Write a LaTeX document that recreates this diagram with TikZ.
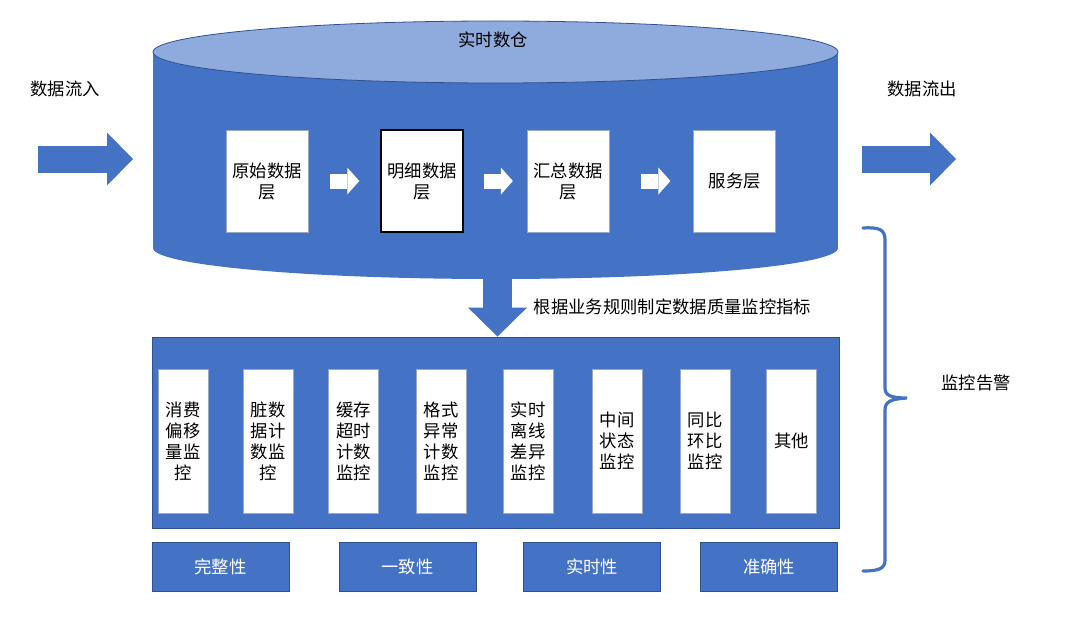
\documentclass[tikz,border=0pt]{standalone}
\usepackage{fontspec}
\setmainfont{Noto Sans CJK SC}
\usetikzlibrary{arrows.meta,positioning}
\definecolor{dqblue}{HTML}{4472C4}
\definecolor{dqlight}{HTML}{8FAADC}
\definecolor{dqedge}{HTML}{2F528F}

\begin{document}
\begin{tikzpicture}[
  x=0.75pt, y=-0.75pt,
  every node/.style={font=\fontsize{13}{15.75}\selectfont},
  layer/.style={rectangle, fill=white, draw=dqedge!50, line width=0.4pt, align=center,
                minimum width=61.5pt, minimum height=76.5pt, inner sep=2pt},
  check/.style={rectangle, fill=white, draw=dqedge!50, line width=0.4pt, align=center,
                minimum width=37.5pt, minimum height=108pt, inner sep=1pt},
  dimbox/.style={rectangle, fill=dqblue, draw=dqedge, line width=0.6pt, text=white,
                 minimum width=102.75pt, minimum height=36.75pt},
  fatarr/.style={dqblue, line width=20.25pt, -{Triangle[length=19.5pt, width=39.75pt, line width=0pt]}},
  downarr/.style={dqblue, line width=21.75pt, -{Triangle[length=21.75pt, width=44.25pt, line width=0pt]}},
  thinarr/.style={white, line width=11.25pt, -{Triangle[length=9pt, width=20.25pt, line width=0pt]}}
]
\useasboundingbox (0,0) rectangle (1080,635);

% down arrow first, the cylinder hides its top
\coordinate (cylbot) at (497.5,279);
\node[draw=dqedge, line width=0.6pt, fill=dqblue, minimum width=515.25pt,
      minimum height=143.25pt] (mon) at (495.5,432.5) {};
\draw[downarr] (cylbot) -- (cylbot |- mon.north);

% cylinder
\fill[dqblue] (495.5,248) ellipse[x radius=342.5, y radius=31];
\fill[dqblue] (153,52) rectangle (838,248);
\draw[dqedge, line width=0.6pt, fill=dqlight] (495.5,52) ellipse[x radius=342.5, y radius=31];
\node (dw) at (493,40) {实时数仓};

% layers
\node[layer] (ods) at (267,181) {原始数据\\层};
\node[layer, draw=black, line width=1.2pt, right=54pt of ods] (dwd) {明细数据\\层};
\node[layer, right=47.25pt of dwd] (dws) {汇总数据\\层};
\node[layer, right=63pt of dws] (ads) {服务层};
\draw[thinarr, shorten <=16.5pt, shorten >=15.75pt] (ods) -- (dwd);
\draw[thinarr, shorten <=15pt, shorten >=10.5pt] (dwd) -- (dws);
\draw[thinarr, shorten <=24pt, shorten >=17.25pt] (dws) -- (ads);

% in and out
\node (inlbl) at (65,89) {数据流入};
\node (outlbl) at (922,89) {数据流出};
\coordinate (inA) at (38,159);
\coordinate (inB) at (133,159);
\coordinate (outA) at (862,159);
\coordinate (outB) at (956,159);
\draw[fatarr] (inA) -- (inB);
\draw[fatarr] (outA) -- (outB);

\node[anchor=west] (rule) at (529,307) {根据业务规则制定数据质量监控指标};

% checks
\foreach \x/\txt [count=\i] in {183/{消费\\偏移\\量监\\控}, 268/{脏数\\据计\\数监\\控},
    353.5/{缓存\\超时\\计数\\监控}, 441/{格式\\异常\\计数\\监控}, 528/{实时\\离线\\差异\\监控},
    617/{中间\\状态\\监控}, 705/{同比\\环比\\监控}, 791.5/{其他}}
  \node[check] (chk\i) at (\x,441) {\txt};

% quality dimensions
\node[dimbox] (integ) at (220.5,566.5) {完整性};
\node[dimbox] (consis) at (407.5,566.5) {一致性};
\node[dimbox] (timely) at (592,566.5) {实时性};
\node[dimbox] (accur) at (769,566.5) {准确性};

% brace
\draw[dqblue, line width=2.4pt, line cap=round]
  (863,228) .. controls (880,227) and (885,230) .. (885,240) -- (885,388)
  .. controls (885,395) and (890,398) .. (907,398)
  .. controls (890,399) and (885,402) .. (885,410) -- (885,560)
  .. controls (885,568) and (880,571) .. (863,571);
\node (alarm) at (976,383) {监控告警};
\end{tikzpicture}
\end{document}
